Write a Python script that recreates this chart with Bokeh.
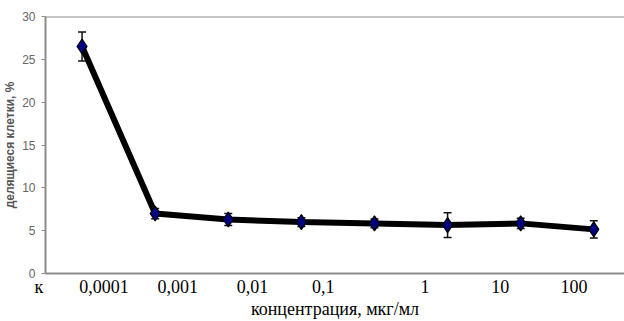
from bokeh.plotting import figure
from bokeh.models import (Range1d, FixedTicker, Span, Whisker, ColumnDataSource,
                          TeeHead, CustomJSTickFormatter)
from bokeh.embed import file_html
from bokeh.resources import INLINE

# data
x_idx = [0, 1, 2, 3, 4, 5, 6, 7]
values = [26.5, 7.0, 6.3, 6.0, 5.85, 5.65, 5.85, 5.15]
errors = [1.7, 0.6, 0.7, 0.5, 0.5, 1.45, 0.6, 1.0]
x_labels = ["к\u00a0\u00a0\u00a0", "0,0001", "0,001", "0,01", "0,1", "1", "10", "100"]
label_pos = [-0.5, 0.3, 1.31, 2.33, 3.3, 4.69, 5.72, 6.73]
y_ticks = [0, 5, 10, 15, 20, 25, 30]

src = ColumnDataSource(dict(
    x=x_idx, y=values,
    upper=[v + e for v, e in zip(values, errors)],
    lower=[v - e for v, e in zip(values, errors)],
))

AX = "#8c8c8c"
SERIF = "Times"
SANS = "Arial"

p = figure(width=624, height=321, output_backend="svg", toolbar_location=None,
           x_range=Range1d(-0.5, 7.42), y_range=Range1d(0, 30),
           min_border_left=43, min_border_top=16, min_border_right=0, min_border_bottom=48)
p.outline_line_color = None
p.grid.grid_line_color = None
p.background_fill_color = "white"
p.border_fill_color = "white"

# y axis
ya = p.yaxis[0]
ya.ticker = FixedTicker(ticks=y_ticks)
ya.axis_line_color = AX
ya.axis_line_width = 2
ya.major_tick_line_color = AX
ya.major_tick_out = 4
ya.major_tick_in = 0
ya.minor_tick_line_color = None
ya.major_label_text_font = SANS
ya.major_label_text_font_size = "12px"
ya.major_label_text_color = "#666666"
ya.major_label_standoff = 6
ya.axis_label = "делящиеся клетки, %"
ya.axis_label_text_font = SANS
ya.axis_label_text_font_style = "bold"
ya.axis_label_text_font_size = "12px"
ya.axis_label_text_color = "#555555"
ya.axis_label_standoff = 2

# x axis
xa = p.xaxis[0]
xa.ticker = FixedTicker(ticks=label_pos)
xa.formatter = CustomJSTickFormatter(args=dict(labs=x_labels), code="return labs[index];")
xa.axis_line_color = AX
xa.axis_line_width = 2
xa.major_tick_line_color = None
xa.minor_tick_line_color = None
xa.major_label_text_font = SERIF
xa.major_label_text_font_size = "18px"
xa.major_label_text_color = "black"
xa.major_label_standoff = -3
xa.axis_label = "концентрация, мкг/мл"
xa.axis_label_text_font = SERIF
xa.axis_label_text_font_style = "normal"
xa.axis_label_text_font_size = "18px"
xa.axis_label_text_color = "black"
xa.axis_label_standoff = -1

# top border
p.add_layout(Span(location=30, dimension="width", line_color=AX, line_width=2))

# series
p.line("x", "y", source=src, line_color="black", line_width=6)
p.add_layout(Whisker(base="x", upper="upper", lower="lower", source=src,
                     line_color="#111111", line_width=1.5,
                     upper_head=TeeHead(size=8, line_color="#111111", line_width=1.5),
                     lower_head=TeeHead(size=8, line_color="#111111", line_width=1.5)))
p.scatter("x", "y", source=src, marker="diamond", size=15, fill_color="#000080",
          line_color="black", line_width=1.2)

open("out.html", "w").write(file_html(p, INLINE))
